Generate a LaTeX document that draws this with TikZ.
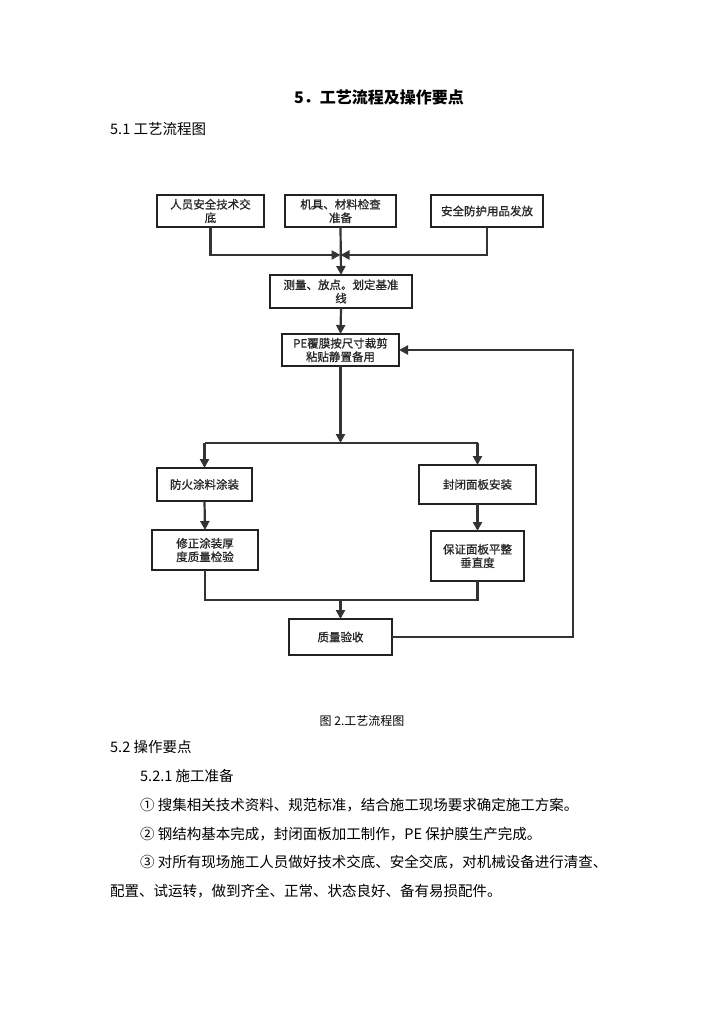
\documentclass[tikz,border=0pt]{standalone}
\usepackage{fontspec}
\setmainfont{Noto Sans CJK SC}
\newfontfamily\boxfont[FakeBold=0.8]{Noto Sans CJK SC}
\usetikzlibrary{arrows.meta}
\definecolor{linec}{HTML}{333333}
\definecolor{boxc}{HTML}{222222}
\tikzset{
  flowbox/.style={draw=boxc, line width=2.2pt, fill=white, inner sep=0pt, outer sep=0pt, align=center,
    font=\boxfont\fontsize{11.5}{13.5}\selectfont, text=black!85},
  conn/.style={draw=linec, line width=2.2pt},
  arr/.style={conn, -{Triangle[length=9pt,width=9pt]}},
  bodytext/.style={anchor=west, inner sep=0pt, font=\fontsize{14.5}{17}\selectfont, text=black},
}
\begin{document}
\begin{tikzpicture}[x=1pt,y=-1pt]
\useasboundingbox (0,0) rectangle (724,1024);
\fill[white] (0,0) rectangle (724,1024);

% headings
\node[anchor=center, inner sep=0pt, font=\fontsize{16}{19}\selectfont\bfseries] (title) at (379,97) {5．工艺流程及操作要点};
\node[bodytext] (s51) at (110,129) {5.1 工艺流程图};

% boxes
\node[flowbox, minimum width=107pt, minimum height=32pt] (A) at (210.5,211) {人员安全技术交\\底};
\node[flowbox, minimum width=111pt, minimum height=32pt] (B) at (340.5,211) {机具、材料检查\\准备};
\node[flowbox, minimum width=112pt, minimum height=32pt] (C) at (487,211) {安全防护用品发放};
\node[flowbox, minimum width=142pt, minimum height=33pt] (D) at (341,291.5) {测量、放点。划定基准\\线};
\node[flowbox, minimum width=117pt, minimum height=32pt] (E) at (340.5,350) {PE覆膜按尺寸裁剪\\粘贴静置备用};
\node[flowbox, minimum width=95pt, minimum height=33pt] (F) at (204.5,484.5) {防火涂料涂装};
\node[flowbox, minimum width=117pt, minimum height=39pt] (G) at (477.5,484.5) {封闭面板安装};
\node[flowbox, minimum width=106pt, minimum height=40pt] (H) at (205,550) {修正涂装厚\\度质量检验};
\node[flowbox, minimum width=93pt, minimum height=50pt] (I) at (477.5,556) {保证面板平整\\垂直度};
\node[flowbox, minimum width=103pt, minimum height=36pt] (J) at (340.5,637) {质量验收};

% junction points
\coordinate (j) at (340.5,255);
\coordinate (s) at (340.5,443);
\coordinate (m) at (340.5,600);
\coordinate (fb) at (573,637);

% connectors
\draw[arr] (A.south) |- (j);
\draw[arr] (C.south) |- (j);
\draw[arr] (B.south) -- (D.north);
\draw[arr] (D.south) -- (E.north);
\draw[arr] (E.south) -- (s);
\draw[conn] (s -| F.north) -- (s -| G.north);
\draw[arr] (s -| F.north) -- (F.north);
\draw[arr] (s -| G.north) -- (G.north);
\draw[arr] (F.south) -- (H.north);
\draw[arr] (G.south) -- (I.north);
\draw[conn] (H.south) |- (m);
\draw[conn] (I.south) |- (m);
\draw[arr] (m) -- (J.north);
\draw[arr] (J.east) -- (fb) -- (fb |- E.east) -- (E.east);

% caption and body text
\node[anchor=center, inner sep=0pt, font=\fontsize{12}{14}\selectfont] (cap) at (362,721) {图 2.工艺流程图};
\node[bodytext] (s52) at (110,747) {5.2 操作要点};
\node[bodytext] (s521) at (140,776) {5.2.1 施工准备};
\node[bodytext] (p1) at (140,805) {① 搜集相关技术资料、规范标准，结合施工现场要求确定施工方案。};
\node[bodytext] (p2) at (140,834) {② 钢结构基本完成，封闭面板加工制作，PE 保护膜生产完成。};
\node[bodytext] (p3) at (140,862) {③ 对所有现场施工人员做好技术交底、安全交底，对机械设备进行清查、};
\node[bodytext] (p4) at (110,891) {配置、试运转，做到齐全、正常、状态良好、备有易损配件。};
\end{tikzpicture}
\end{document}
